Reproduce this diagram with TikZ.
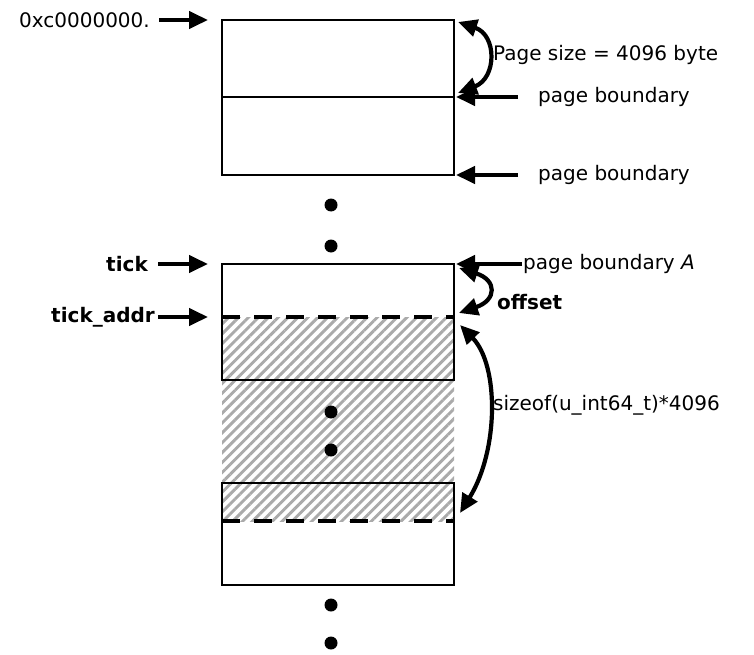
\documentclass[tikz,border=0pt]{standalone}
\usepackage{fontspec}
\setmainfont{DejaVu Sans}
\usetikzlibrary{arrows.meta,patterns.meta}
\tikzset{
  head/.tip={Triangle[length=19pt,width=17pt]},
}
\begin{document}
\begin{tikzpicture}[x=1pt,y=-1pt,
  page/.style={draw,line width=1.4pt,minimum width=232pt,inner sep=0pt,outer sep=0pt},
  ptr/.style={line width=4.2pt,-head},
  dbl/.style={line width=4.2pt,head-head},
  lbl/.style={font=\fontsize{20}{22}\selectfont,inner sep=0pt},
  blbl/.style={font=\fontsize{20}{22}\selectfont\bfseries,inner sep=0pt},
  dot/.style={circle,fill,minimum size=13pt,inner sep=0pt},
  hatch/.style={pattern={Lines[angle=45,distance=7pt,line width=2.9pt]},pattern color=gray!67},
  cut/.style={line width=4.6pt,dash pattern=on 18pt off 14pt}]
\useasboundingbox (0,0) rectangle (754,655);

% shaded range of the array
\fill[hatch] (222,317) rectangle (454,521);

% pages
\node[page,minimum height=77pt] (p1) at (338,58.5) {};
\node[page,minimum height=78pt] (p2) at (338,136) {};
\node[page,minimum height=116pt] (tick) at (338,322) {};
\node[page,minimum height=102pt] (last) at (338,534) {};

% start and end of the array
\coordinate (a1) at (222,317);
\coordinate (a2) at (454,317);
\coordinate (b1) at (222,521);
\coordinate (b2) at (454,521);
\draw[cut] (a1) -- (a2);
\draw[cut] (b1) -- (b2);

% ellipsis dots
\node[dot] (d1) at (331,205) {};
\node[dot] (d2) at (331,246) {};
\node[dot] (d3) at (331,412) {};
\node[dot] (d4) at (331,450) {};
\node[dot] (d5) at (331,605) {};
\node[dot] (d6) at (331,643) {};

% left-hand pointers
\node[lbl,anchor=east] (base) at (150,20) {0xc0000000.};
\draw[ptr] ([xshift=9pt]base.east) -- ([xshift=-14pt]p1.north west);
\node[blbl,anchor=east] (tk) at (148,264) {tick};
\draw[ptr] ([xshift=10pt]tk.east) -- ([xshift=-14pt]tick.north west);
\node[blbl,anchor=east] (ta) at (155,317) {tick\_addr};
\draw[ptr] ([xshift=3pt]ta.east) -- ([xshift=-14pt]a1);

% right-hand labels
\node[lbl,anchor=west] (ps) at (493,55) {Page size = 4096 byte};
\draw[dbl] ([shift={(4pt,-2pt)}]p1.north east) .. controls (497,35) and (497,78) .. ([shift={(4pt,4pt)}]p1.south east);
\node[lbl,anchor=west] (pb1) at (538,97) {page boundary};
\draw[ptr] ([xshift=-20pt]pb1.west) -- ([xshift=2pt]p1.south east);
\node[lbl,anchor=west] (pb2) at (538,175) {page boundary};
\draw[ptr] ([xshift=-20pt]pb2.west) -- ([xshift=2pt]p2.south east);
\node[lbl,anchor=west] (pba) at (523,264) {page boundary \textit{A}};
\draw[ptr] ([xshift=-1pt]pba.west) -- ([xshift=2pt]tick.north east);
\node[blbl,anchor=west] (off) at (497,302) {offset};
\draw[dbl] ([shift={(5pt,-4pt)}]tick.north east) .. controls (497,280) and (497,300) .. ([shift={(5pt,4pt)}]a2);
\node[lbl,anchor=west] (sz) at (493,405) {sizeof(u\_int64\_t)*4096};
\draw[dbl] ([shift={(6pt,-8pt)}]a2) .. controls (499,365) and (499,450) .. ([shift={(6pt,8pt)}]b2);
\end{tikzpicture}
\end{document}
